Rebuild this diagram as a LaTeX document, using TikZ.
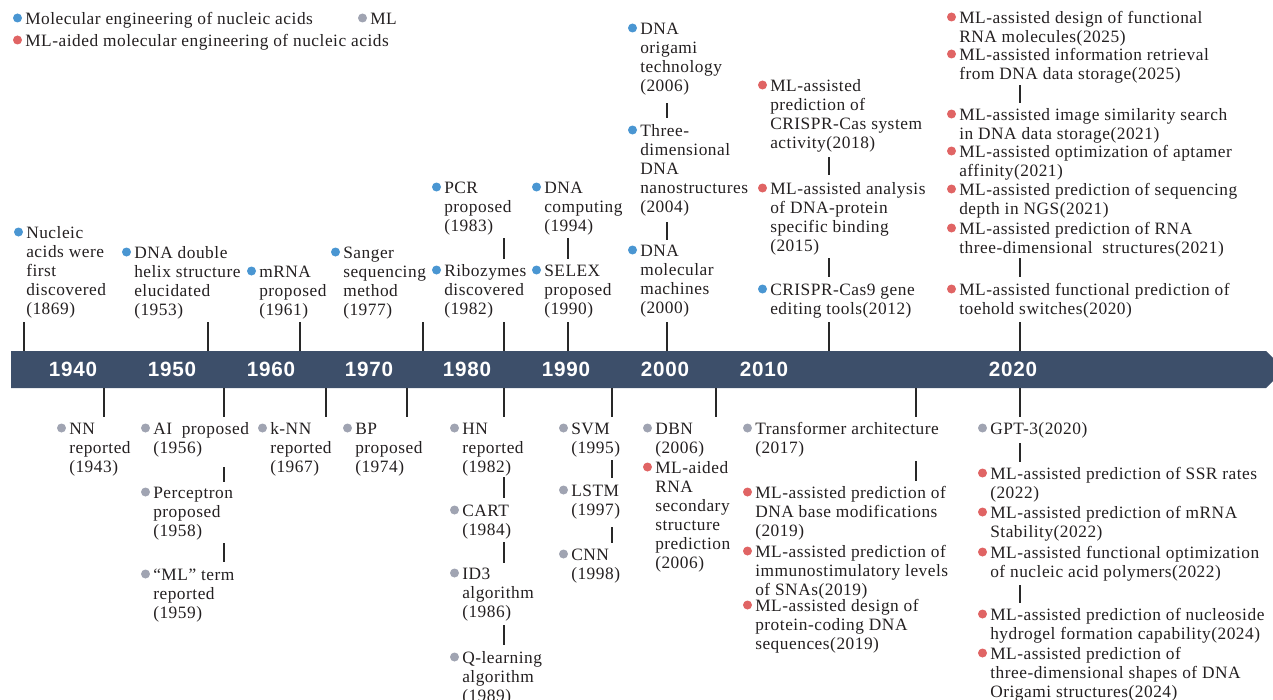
\documentclass[tikz,border=0pt]{standalone}
\usepackage{fontspec}
\setmainfont{Liberation Serif}
\newfontfamily\labfont{Liberation Serif}[LetterSpace=3]
\newfontfamily\yrfont{Liberation Sans}[LetterSpace=4]
\definecolor{barc}{RGB}{61,79,106}
\definecolor{cblue}{RGB}{74,150,210}
\definecolor{cred}{RGB}{224,100,100}
\definecolor{cgray}{RGB}{160,164,178}
\definecolor{textc}{RGB}{35,31,32}
\definecolor{tickc}{RGB}{40,40,40}
\tikzset{
  txt/.style={anchor=north west, inner sep=0pt, align=left, text=textc,
    font=\labfont\fontsize{13}{14.25}\selectfont},
  yr/.style={text=white, inner sep=0pt, font=\yrfont\bfseries\fontsize{15.5}{18}\selectfont},
  tick/.style={draw=tickc, line width=1.1pt},
}
\newcommand\mkev[5]{\node[txt] (#1) at (#3,#4-7.3) {\strut #5};
  \fill[#2] (#3-7.5,#4) circle[radius=4.5];}
\newcommand\tkline[3]{\draw[tick] (#1,#2) -- (#1,#3);}
\begin{document}
\begin{tikzpicture}[x=0.75pt,y=-0.75pt]
\useasboundingbox (0,0) rectangle (1273,699);
% timeline bar
\fill[barc] (11,351) -- (1266,351) -- (1284.5,369.5) -- (1266,388) -- (11,388) -- cycle;
\foreach \yy/\xx in {1940/73,1950/172,1960/271,1970/369,1980/467,1990/566,2000/665,2010/764,2020/1013}
  {\node[yr] (y\yy) at (\xx,369) {\yy};}
% legend
\mkev{lg1}{cblue}{25}{18}{Molecular engineering of nucleic acids}
\mkev{lg2}{cgray}{370}{18}{ML}
\mkev{lg3}{cred}{25}{40}{ML-aided molecular engineering of nucleic acids}
% upper events
\mkev{n1869}{cblue}{26}{232}{Nucleic\\acids were\\first\\discovered\\(1869)}
\mkev{n1953}{cblue}{134}{252}{DNA double\\helix structure\\elucidated\\(1953)}
\mkev{n1961}{cblue}{259}{271}{mRNA\\proposed\\(1961)}
\mkev{n1977}{cblue}{343}{252}{Sanger\\sequencing\\method\\(1977)}
\mkev{n1983}{cblue}{444}{187}{PCR\\proposed\\(1983)}
\mkev{n1982}{cblue}{444}{270}{Ribozymes\\discovered\\(1982)}
\mkev{n1994}{cblue}{544}{187}{DNA\\computing\\(1994)}
\mkev{n1990}{cblue}{544}{270}{SELEX\\proposed\\(1990)}
\mkev{n2006o}{cblue}{640}{28}{DNA\\origami\\technology\\(2006)}
\mkev{n2004}{cblue}{640}{130}{Three-\\dimensional\\DNA\\nanostructures\\(2004)}
\mkev{n2000}{cblue}{640}{250}{DNA\\molecular\\machines\\(2000)}
\mkev{n2018}{cred}{770}{85}{ML-assisted\\prediction of\\CRISPR-Cas system\\activity(2018)}
\mkev{n2015}{cred}{770}{188}{ML-assisted analysis\\of DNA-protein\\specific binding\\(2015)}
\mkev{n2012}{cblue}{770}{289}{CRISPR-Cas9 gene\\editing tools(2012)}
\mkev{r25a}{cred}{959}{17}{ML-assisted design of functional\\RNA molecules(2025)}
\mkev{r25b}{cred}{959}{54}{ML-assisted information retrieval\\from DNA data storage(2025)}
\mkev{r21a}{cred}{959}{114}{ML-assisted image similarity search\\in DNA data storage(2021)}
\mkev{r21b}{cred}{959}{151}{ML-assisted optimization of aptamer\\affinity(2021)}
\mkev{r21c}{cred}{959}{189}{ML-assisted prediction of sequencing\\depth in NGS(2021)}
\mkev{r21d}{cred}{959}{228}{ML-assisted prediction of RNA\\three-dimensional\ \ structures(2021)}
\mkev{r20}{cred}{959}{289}{ML-assisted functional prediction of\\toehold switches(2020)}
% lower events
\mkev{nn}{cgray}{69}{428}{NN\\reported\\(1943)}
\mkev{ai}{cgray}{153}{428}{AI\ \ proposed\\(1956)}
\mkev{perc}{cgray}{153}{492}{Perceptron\\proposed\\(1958)}
\mkev{mlterm}{cgray}{153}{574}{“ML” term\\reported\\(1959)}
\mkev{knn}{cgray}{270}{428}{k-NN\\reported\\(1967)}
\mkev{bp}{cgray}{355}{428}{BP\\proposed\\(1974)}
\mkev{hn}{cgray}{462}{428}{HN\\reported\\(1982)}
\mkev{cart}{cgray}{462}{510}{CART\\(1984)}
\mkev{id3}{cgray}{462}{573}{ID3\\algorithm\\(1986)}
\mkev{ql}{cgray}{462}{657}{Q-learning\\algorithm\\(1989)}
\mkev{svm}{cgray}{571}{428}{SVM\\(1995)}
\mkev{lstm}{cgray}{571}{490}{LSTM\\(1997)}
\mkev{cnn}{cgray}{571}{554}{CNN\\(1998)}
\mkev{dbn}{cgray}{655}{428}{DBN\\(2006)}
\mkev{rna06}{cred}{655}{467}{ML-aided\\RNA\\secondary\\structure\\prediction\\(2006)}
\mkev{trans}{cgray}{755}{428}{Transformer architecture\\(2017)}
\mkev{dna19}{cred}{755}{492}{ML-assisted prediction of\\DNA base modifications\\(2019)}
\mkev{sna19}{cred}{755}{551}{ML-assisted prediction of\\immunostimulatory levels\\of SNAs(2019)}
\mkev{pcd19}{cred}{755}{605}{ML-assisted design of\\protein-coding DNA\\sequences(2019)}
\mkev{gpt}{cgray}{990}{428}{GPT-3(2020)}
\mkev{ssr}{cred}{990}{473}{ML-assisted prediction of SSR rates\\(2022)}
\mkev{mrna}{cred}{990}{512}{ML-assisted prediction of mRNA\\Stability(2022)}
\mkev{poly}{cred}{990}{552}{ML-assisted functional optimization\\of nucleic acid polymers(2022)}
\mkev{hydro}{cred}{990}{614}{ML-assisted prediction of nucleoside\\hydrogel formation capability(2024)}
\mkev{orig}{cred}{990}{653}{ML-assisted prediction of\\three-dimensional shapes of DNA\\Origami structures(2024)}
% ticks above bar
\foreach \xx in {24,208,300,423,504,568,667,829,1020} {\tkline{\xx}{322}{351}}
\tkline{504}{238}{259}
\tkline{568}{238}{259}
\tkline{667}{103}{118}
\tkline{667}{222}{240}
\tkline{829}{157}{175}
\tkline{829}{258}{277}
\tkline{1020}{85}{103}
\tkline{1020}{258}{277}
% ticks below bar
\foreach \xx in {104,224,326,407,504,612,716,916,1020} {\tkline{\xx}{388}{417}}
\tkline{224}{467}{482}
\tkline{224}{543}{562}
\tkline{504}{477}{498}
\tkline{504}{542}{563}
\tkline{504}{625}{645}
\tkline{612}{460}{478}
\tkline{612}{527}{543}
\tkline{916}{461}{481}
\tkline{1020}{443}{462}
\tkline{1020}{585}{603}
\end{tikzpicture}
\end{document}
